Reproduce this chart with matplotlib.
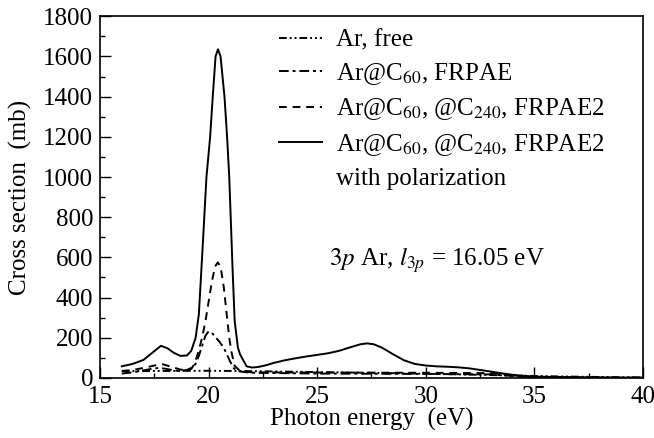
import numpy as np
import matplotlib
matplotlib.use("Agg")
import matplotlib.pyplot as plt
from matplotlib.lines import Line2D
from matplotlib.ticker import MultipleLocator

# fonts (Times-like)
plt.rcParams['font.family'] = ['Liberation Serif', 'DejaVu Serif']
plt.rcParams['mathtext.fontset'] = 'stix'

# Ar, free
e_free = [16.0, 18.0, 20.0, 22.0, 24.0, 26.0, 28.0, 30.0, 32.0, 34.0, 36.0, 38.0, 40.0]
s_free = [34, 35, 36, 34, 31, 28, 25, 21, 17, 12, 8, 5, 3]

# Ar@C60, FRPAE
e_frpae = [16.0, 16.5, 17.0, 17.5, 17.8, 18.2, 18.6, 19.0, 19.2, 19.4, 19.55, 19.7,
           19.85, 20.0, 20.15, 20.3, 20.5, 20.7, 20.85, 21.0, 21.15, 21.3, 21.6, 22.0,
           25.0, 30.0, 33.0, 34.0, 35.0, 37.0, 40.0]
s_frpae = [22, 28, 38, 48, 50, 42, 35, 40, 50, 70, 110, 160,
           210, 232, 225, 205, 180, 150, 115, 80, 50, 35, 30, 26,
           22, 20, 18, 10, 4, 2, 1]

# Ar@C60, @C240, FRPAE2
e_frpae2 = [16.0, 16.5, 17.0, 17.5, 17.9, 18.3, 18.7, 19.0, 19.2, 19.35, 19.5, 19.7,
            19.85, 20.0, 20.15, 20.3, 20.42, 20.55, 20.7, 20.83, 20.95, 21.05, 21.2,
            21.4, 21.7, 22.0, 25.0, 30.0, 33.0, 33.5, 34.0, 34.5, 35.0, 36.0, 40.0]
s_frpae2 = [35, 40, 50, 62, 68, 55, 42, 38, 45, 70, 120, 200,
            280, 380, 480, 555, 575, 555, 450, 320, 200, 130, 60,
            40, 32, 28, 27, 26, 24, 20, 12, 6, 3, 1, 0]

# Ar@C60, @C240, FRPAE2 with polarization
e_pol = [16.0, 16.5, 17.0, 17.4, 17.8, 18.1, 18.4, 18.7, 19.0, 19.2, 19.4, 19.55,
         19.75, 19.9, 20.07, 20.19, 20.32, 20.43, 20.55, 20.73, 20.85, 20.95, 21.1,
         21.2, 21.35, 21.45, 21.75, 22.0, 22.3, 22.7, 23.0, 23.5, 24.0, 24.5, 25.0,
         25.5, 26.0, 26.5, 27.0, 27.3, 27.6, 28.0, 28.5, 29.0, 29.5, 30.0, 30.5,
         31.0, 31.5, 32.0, 32.5, 33.0, 33.5, 34.0, 34.5, 35.0, 36.0, 37.0, 38.0,
         39.0, 40.0]
s_pol = [58, 70, 90, 125, 160, 148, 125, 110, 112, 135, 200, 317,
         700, 1000, 1200, 1400, 1600, 1635, 1600, 1400, 1200, 1000, 550,
         283, 150, 117, 58, 52, 55, 65, 75, 88, 98, 107, 115,
         123, 135, 152, 168, 172, 168, 150, 118, 88, 70, 62, 58,
         56, 53, 48, 40, 32, 23, 16, 11, 7, 5, 4, 3,
         2, 2]

fs = 18
fig = plt.figure(figsize=(6.54, 4.38), dpi=100)
ax = fig.add_axes([0.153, 0.137, 0.830, 0.826])

lw = 1.4
ls_free = (0, (4, 1.5, 1, 1.5, 1, 1.5))
ls_frpae = (0, (5, 2, 1.5, 2))
ls_frpae2 = (0, (4, 3))
ax.plot(e_free, s_free, color='k', lw=lw, ls=ls_free)
ax.plot(e_frpae, s_frpae, color='k', lw=lw, ls=ls_frpae)
ax.plot(e_frpae2, s_frpae2, color='k', lw=lw, ls=ls_frpae2)
ax.plot(e_pol, s_pol, color='k', lw=lw, ls='-')

ax.set_xlim(15, 40)
ax.set_ylim(0, 1800)
ax.xaxis.set_major_locator(MultipleLocator(5))
ax.xaxis.set_minor_locator(MultipleLocator(2.5))
ax.yaxis.set_major_locator(MultipleLocator(200))
ax.yaxis.set_minor_locator(MultipleLocator(100))
ax.tick_params(which='both', direction='in', top=False, right=False, labelsize=fs)
ax.tick_params(which='major', length=8, width=1)
ax.tick_params(which='minor', length=3.6, width=1)
ax.tick_params(axis='x', pad=6)
ax.tick_params(axis='y', pad=5)
for sp in ax.spines.values():
    sp.set_linewidth(1.2)

ax.set_xlabel('Photon energy  (eV)', fontsize=fs, labelpad=0)
ax.set_ylabel('Cross section  (mb)', fontsize=fs, labelpad=8)

handles = [
    Line2D([], [], color='k', lw=lw, ls=ls_free),
    Line2D([], [], color='k', lw=lw, ls=ls_frpae),
    Line2D([], [], color='k', lw=lw, ls=ls_frpae2),
    Line2D([], [], color='k', lw=lw, ls='-'),
    Line2D([], [], color='none', lw=0),
]
labels = ['Ar, free',
          r'Ar@C$_{60}$, FRPAE',
          r'Ar@C$_{60}$, @C$_{240}$, FRPAE2',
          r'Ar@C$_{60}$, @C$_{240}$, FRPAE2',
          'with polarization']
ax.legend(handles, labels, loc='upper left', bbox_to_anchor=(0.330, 0.965),
          frameon=False, fontsize=fs, borderpad=0, borderaxespad=0,
          handlelength=1.72, handletextpad=0.56, labelspacing=0.38)

ax.text(25.55, 560, r'$3p$ Ar, $l_{3p}$ = 16.05 eV', fontsize=fs)

fig.savefig('out.png', dpi=100)
